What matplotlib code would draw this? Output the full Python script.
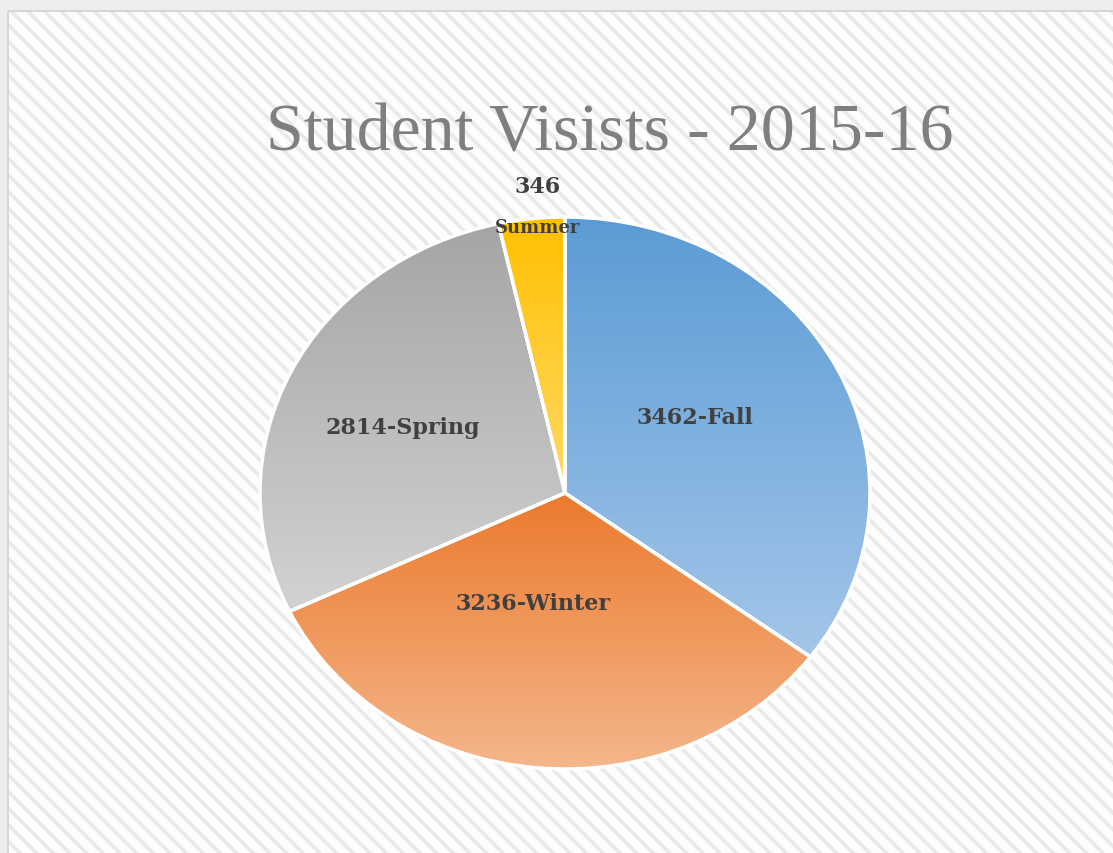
import matplotlib
matplotlib.use("Agg")
import matplotlib.pyplot as plt
import numpy as np
from matplotlib.patches import Rectangle
from matplotlib.colors import LinearSegmentedColormap

# ---- data ----
categories = ["Fall", "Winter", "Spring", "Summer"]
visits = [3462, 3236, 2814, 346]
title_text = "Student Visists - 2015-16"

# gradient colours (top, bottom) per slice
grad_top = ["#5B9BD5", "#EB7A2E", "#A5A5A5", "#FFC000"]
grad_bot = ["#A3C6E9", "#F5B78C", "#D2D2D2", "#FFD966"]

W, H = 1113, 854
fig = plt.figure(figsize=(W / 100, H / 100), dpi=100)
fig.patch.set_facecolor("#eeeeee")

# background panel with diagonal stripes
plt.rcParams["hatch.linewidth"] = 2.6
bg = fig.add_axes([0, 0, 1, 1])
bg.set_xlim(0, W)
bg.set_ylim(H, 0)
bg.axis("off")
bg.add_patch(Rectangle((8, 12), W, H, facecolor="#fdfdfd", edgecolor="#e9e9e9",
                       hatch="\\\\", linewidth=0, zorder=1))
bg.add_patch(Rectangle((8, 12), W, H, facecolor="none", edgecolor="#d0d0d0",
                       linewidth=1.2, zorder=2))

# pie axes (elliptical)
cx, cy, rx, ry = 565, 494, 305, 276
ax = fig.add_axes([(cx - rx) / W, 1 - (cy + ry) / H, 2 * rx / W, 2 * ry / H])
wedges, _ = ax.pie(visits, startangle=90, counterclock=False, radius=1,
                   wedgeprops=dict(edgecolor="white", linewidth=2.5))
ax.set_aspect("auto")
ax.axis("off")

for w, ct, cb in zip(wedges, grad_top, grad_bot):
    verts = w.get_path().vertices
    ymin, ymax = verts[:, 1].min(), verts[:, 1].max()
    cmap = LinearSegmentedColormap.from_list("g", [cb, ct])
    grad = np.linspace(0, 1, 256).reshape(-1, 1)
    im = ax.imshow(grad, cmap=cmap, origin="lower", aspect="auto",
                   extent=(-1, 1, ymin, ymax), zorder=w.get_zorder() - 0.1)
    im.set_clip_path(w)
    w.set_facecolor("none")
ax.set_xlim(-1, 1)
ax.set_ylim(-1, 1)

# overlay for text
top = fig.add_axes([0, 0, 1, 1])
top.set_xlim(0, W)
top.set_ylim(H, 0)
top.axis("off")
top.patch.set_alpha(0)

top.text(610, 134, title_text, ha="center", va="center", fontsize=49,
         family="Liberation Serif", color="#7f7f7f")

lab_kw = dict(family="DejaVu Serif", fontweight="bold", color="#404040",
              ha="center", va="center")
labels = [f"{v}-{c}" for v, c in zip(visits, categories)]
top.text(695, 418, labels[0], fontsize=16, **lab_kw)
top.text(533, 604, labels[1], fontsize=16, **lab_kw)
top.text(403, 428, labels[2], fontsize=16, **lab_kw)
top.text(538, 187, str(visits[3]), fontsize=16, **lab_kw)
top.text(538, 228, categories[3], fontsize=13, **lab_kw)

fig.savefig("out.png", dpi=100, facecolor=fig.get_facecolor())
